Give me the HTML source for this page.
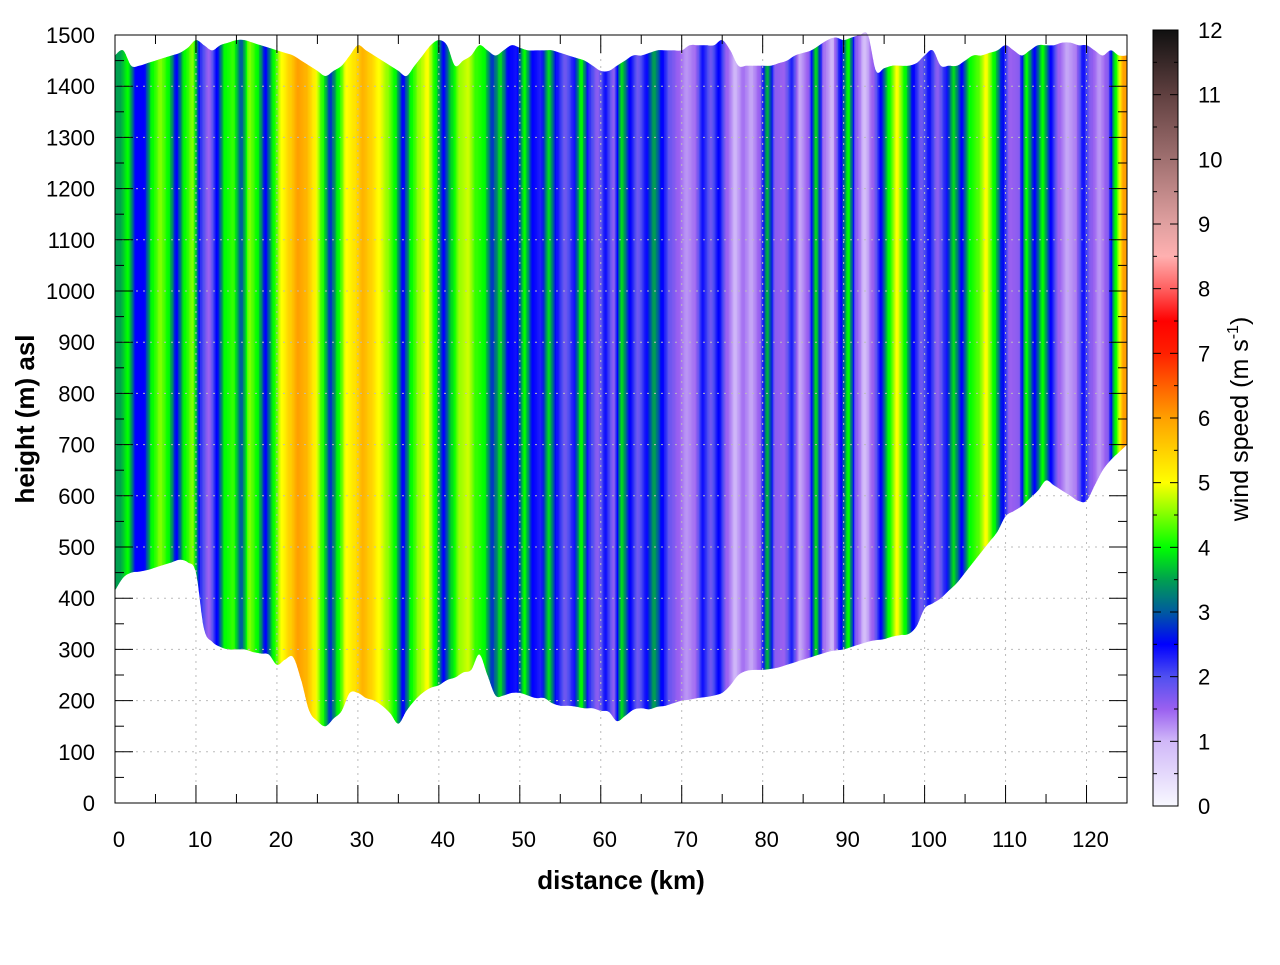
<!DOCTYPE html>
<html><head><meta charset="utf-8">
<style>
body{margin:0;background:#fff;}
svg text{font-family:"Liberation Sans",sans-serif;}
</style></head>
<body>
<svg id="chart" width="1280" height="960" xmlns="http://www.w3.org/2000/svg">
<defs>
<clipPath id="terrainClip"><path id="clipPath" d=""/></clipPath>
<linearGradient id="cbGrad" x1="0" y1="1" x2="0" y2="0"></linearGradient>
</defs>
<g id="plot"></g>
<g id="axes"></g>
<g id="cbar"></g>
<text x="621" y="889" font-size="26" font-weight="bold" text-anchor="middle">distance (km)</text>
<text transform="translate(34,419) rotate(-90)" font-size="26" font-weight="bold" text-anchor="middle">height (m) asl</text>
<text transform="translate(1248,419) rotate(-90)" font-size="25" text-anchor="middle">wind speed (m s<tspan font-size="16" dy="-10">-1</tspan><tspan dy="10">)</tspan></text>
</svg>
<script>
const xTicks=[0,10,20,30,40,50,60,70,80,90,100,110,120];
const yTicks=[0,100,200,300,400,500,600,700,800,900,1000,1100,1200,1300,1400,1500];
const cbTicks=[0,1,2,3,4,5,6,7,8,9,10,11,12];
// ground height (m) at each km 0..125
const ground=[415,440,450,452,455,460,465,470,475,470,450,340,315,305,300,300,300,295,292,290,270,280,285,240,180,160,150,165,180,215,215,205,200,190,175,155,180,200,215,225,230,240,245,255,260,290,250,210,210,215,215,210,205,205,195,190,190,188,185,185,180,178,160,170,182,185,183,188,190,195,200,202,205,207,210,215,230,250,258,260,260,262,265,270,275,280,285,290,295,298,300,305,310,315,318,320,325,328,330,345,380,390,400,415,430,450,470,490,510,530,560,570,580,595,610,630,620,610,600,590,590,620,650,670,685,700];
// top of data (m) at each km 0..125
const topH=[1460,1470,1440,1440,1445,1450,1455,1460,1465,1475,1490,1480,1470,1480,1485,1490,1490,1485,1480,1475,1470,1465,1460,1450,1440,1430,1420,1430,1440,1460,1480,1470,1460,1450,1440,1430,1420,1440,1460,1480,1490,1480,1440,1450,1460,1480,1470,1460,1470,1480,1475,1470,1470,1470,1470,1465,1460,1455,1450,1440,1430,1430,1440,1450,1460,1460,1465,1470,1470,1470,1470,1480,1480,1480,1480,1490,1470,1440,1440,1440,1440,1440,1445,1450,1460,1465,1470,1480,1490,1495,1490,1495,1500,1500,1430,1435,1440,1440,1440,1445,1460,1470,1440,1440,1440,1450,1460,1460,1465,1470,1480,1470,1460,1470,1480,1480,1480,1485,1485,1480,1480,1470,1460,1470,1460,1460];
// wind speed (m/s) per 1 km column 0..124
const speed=[3.5,4,2.5,2.5,4,4.5,4,2.5,4,4.5,2.2,1.5,2.5,4,4.2,3,4.5,4,2.5,4,5,5.5,6,5.8,5.2,4.2,2.8,4,5,5.3,5.8,5.5,5,4.6,4,2.5,4,4.6,5,4,2.5,3.8,4.6,4.8,4.2,4,2.8,3.8,2.5,2.4,4,2.5,2.3,3.8,2.4,1.8,2.3,4,2.2,1.6,2.4,1.6,3.8,2.5,1.8,2.4,3.5,2.5,1.8,1.5,1.2,1.4,2.4,1.8,2.5,1.5,1.0,1.4,1.1,1.5,3.6,1.6,1.5,2.3,1.1,1.5,3.8,1.4,1.0,2.4,4,1.6,0.9,1.5,2.5,4,5,4,2.5,1.8,2.4,1.6,2.3,3.8,2.5,4,4.3,5,4,2.6,1.5,1.6,4,2.5,4,2.5,1.5,1.1,1.3,2.4,1.6,1.2,1.6,4,6];
const cmapV=[0,1,1.5,2,2.5,3,3.5,4,4.5,5,5.5,6,6.5,7,7.5,8,8.5,9,10,11,12];
const cmapC=["#f8f8ff","#d0b8f8","#9a60f0","#5050f0","#0000ff","#005aa0","#00a050","#00ff00","#80ff00","#ffff00","#ffd000","#ffa000","#ff6000","#ff2000","#ff0000","#ff6060","#ffb0b0","#e0a0a0","#a07070","#604040","#101010"];

const NS="http://www.w3.org/2000/svg";
const X0=115,X1=1127,Y0=803,Y1=35;
const sx=d=>X0+d*(X1-X0)/125;
const sy=h=>Y0-h*(Y0-Y1)/1500;
function hex(c){return [1,3,5].map(i=>parseInt(c.substr(i,2),16));}
function color(v){
  if(v<=cmapV[0])return cmapC[0];
  for(let i=1;i<cmapV.length;i++){if(v<=cmapV[i]){const t=(v-cmapV[i-1])/(cmapV[i]-cmapV[i-1]);const a=hex(cmapC[i-1]),b=hex(cmapC[i]);return "rgb("+a.map((x,j)=>Math.round(x+(b[j]-x)*t)).join(",")+")";}}
  return cmapC[cmapC.length-1];
}
function mk(tag,attrs,parent){const e=document.createElementNS(NS,tag);for(const k in attrs)e.setAttribute(k,attrs[k]);parent.appendChild(e);return e;}
// smooth clip path
function pts(arr){return arr.map((h,i)=>[sx(i),sy(h)]);}
function smooth(p){let s="";for(let i=0;i<p.length-1;i++){const a=p[Math.max(i-1,0)],b=p[i],c=p[i+1],e=p[Math.min(i+2,p.length-1)];
  const c1=[b[0]+(c[0]-a[0])/6,b[1]+(c[1]-a[1])/6],c2=[c[0]-(e[0]-b[0])/6,c[1]-(e[1]-b[1])/6];
  s+=" C"+c1.join(",")+" "+c2.join(",")+" "+c.join(",");}return s;}
const tp=pts(topH),gp=pts(ground).reverse();
let d="M"+tp[0].join(",")+smooth(tp)+" L"+gp[0].join(",")+smooth(gp)+" Z";
document.getElementById('clipPath').setAttribute('d',d);
const plot=document.getElementById('plot');
const strips=mk('g',{'clip-path':'url(#terrainClip)'},plot);
const SUB=6;
speed.forEach((v,i)=>{
  const g=mk('g',{},strips);
  
  
  for(let s=0;s<SUB;s++){
    const f=(s+0.5)/SUB;
    let vv;
    if(f<0.5){const p=i>0?speed[i-1]:v;const t=0.5+f;vv=p+(v-p)*Math.min(1,t*1.4-0.4>0?t*1.4-0.4:0);}
    else{const n=i<speed.length-1?speed[i+1]:v;const t=f-0.5;vv=v+(n-v)*Math.max(0,t*1.4-0.3);}
    mk('rect',{x:sx(i+s/SUB)-0.2,y:Y1-10,width:(X1-X0)/125/SUB+0.4,height:Y0-Y1+10,fill:color(vv)},g);
  }
});
const axes=document.getElementById('axes');
xTicks.forEach(t=>{if(t>0)mk('line',{x1:sx(t),x2:sx(t),y1:Y0,y2:Y1,stroke:'#bbb','stroke-width':1,'stroke-dasharray':'2,5'},axes);});
yTicks.forEach(t=>{if(t>0&&t<1500)mk('line',{x1:X0,x2:X1,y1:sy(t),y2:sy(t),stroke:'#bbb','stroke-width':1,'stroke-dasharray':'2,5'},axes);});
mk('rect',{x:X0,y:Y1,width:X1-X0,height:Y0-Y1,fill:'none',stroke:'#000','stroke-width':1},axes);
for(let k=0;k<=125;k+=5){const L=k%10==0?18:9;const x=sx(k);
  mk('line',{x1:x,x2:x,y1:Y0,y2:Y0-L,stroke:'#000'},axes);mk('line',{x1:x,x2:x,y1:Y1,y2:Y1+L,stroke:'#000'},axes);}
for(let h=0;h<=1500;h+=50){const L=h%100==0?18:9;const y=sy(h);
  mk('line',{x1:X0,x2:X0+L,y1:y,y2:y,stroke:'#000'},axes);mk('line',{x1:X1,x2:X1-L,y1:y,y2:y,stroke:'#000'},axes);}
xTicks.forEach(t=>{const e=mk('text',{x:sx(t)+4,y:847,'font-size':22,'text-anchor':'middle'},axes);e.textContent=t;
  
  });
yTicks.forEach(t=>{const e=mk('text',{x:95,y:sy(t)+8,'font-size':22,'text-anchor':'end'},axes);e.textContent=t;
  
  });
const CX=1153,CW=25,CY0=806,CY1=30;
const cy=v=>CY0-v*(CY0-CY1)/12;
const grad=document.getElementById('cbGrad');
cmapV.forEach((v,i)=>mk('stop',{offset:v/12,'stop-color':cmapC[i]},grad));
const cb=document.getElementById('cbar');
mk('rect',{x:CX,y:CY1,width:CW,height:CY0-CY1,fill:'url(#cbGrad)',stroke:'#000','stroke-width':1},cb);
for(let v=0;v<=12;v+=0.5){const L=v%1==0?8:4;const y=cy(v);
  mk('line',{x1:CX,x2:CX+L,y1:y,y2:y,stroke:'#000'},cb);mk('line',{x1:CX+CW,x2:CX+CW-L,y1:y,y2:y,stroke:'#000'},cb);}
cbTicks.forEach(t=>{const e=mk('text',{x:1198,y:cy(t)+8,'font-size':22},cb);e.textContent=t;
  
  });
</script>
</body></html>
